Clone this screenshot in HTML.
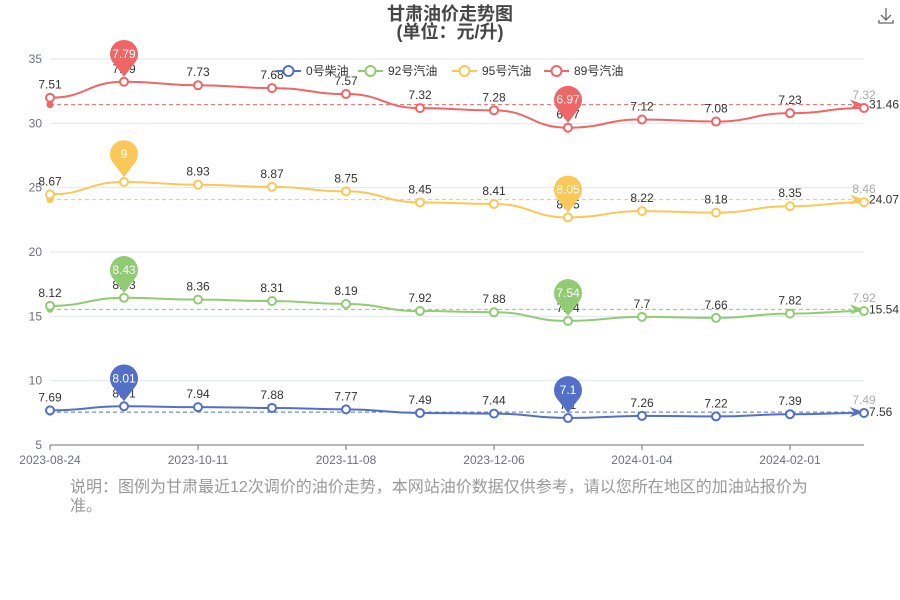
<!DOCTYPE html>
<html><head><meta charset="utf-8"><style>
body{margin:0;background:#fff;width:900px;height:600px;overflow:hidden;font-family:"Liberation Sans","Noto Sans CJK SC",sans-serif}
#note{position:absolute;left:70px;top:478px;width:760px;font-size:16px;line-height:19px;color:#999}
</style></head><body>
<svg id="chart" width="900" height="600" style="position:absolute;left:0;top:0" font-family="Liberation Sans, Noto Sans CJK SC, sans-serif"></svg>
<div id="note">说明：图例为甘肃最近12次调价的油价走势，本网站油价数据仅供参考，请以您所在地区的加油站报价为准。</div>
<script>
const dates=["2023-08-24","2023-09-07","2023-10-11","2023-10-25","2023-11-08","2023-11-22","2023-12-06","2023-12-20","2024-01-04","2024-01-18","2024-02-01","2024-02-22"];
const shownLabels=["2023-08-24","2023-10-11","2023-11-08","2023-12-06","2024-01-04","2024-02-01"];
const names=["0号柴油","92号汽油","95号汽油","89号汽油"];
const diesel0=[7.69,8.01,7.94,7.88,7.77,7.49,7.44,7.1,7.26,7.22,7.39,7.49];
const gas92=[8.12,8.43,8.36,8.31,8.19,7.92,7.88,7.54,7.7,7.66,7.82,7.92];
const gas95=[8.67,9,8.93,8.87,8.75,8.45,8.41,8.05,8.22,8.18,8.35,8.46];
const gas89=[7.51,7.79,7.73,7.68,7.57,7.32,7.28,6.97,7.12,7.08,7.23,7.32];
const yTicks=[5,10,15,20,25,30,35];
const colors=["#5470c6","#91cc75","#fac858","#ee6666"];
const series=[diesel0,gas92,gas95,gas89];

const svg=document.getElementById('chart');
const NS="http://www.w3.org/2000/svg";
function mk(t,a,txt){const e=document.createElementNS(NS,t);for(const k in a)e.setAttribute(k,a[k]);if(txt!=null)e.textContent=txt;svg.appendChild(e);return e;}
const x0=50,x1=864,yTop=59,yBot=445,vMin=5,vMax=35;
const X=i=>x0+i*(x1-x0)/(dates.length-1);
const Y=v=>yBot-(v-vMin)/(vMax-vMin)*(yBot-yTop);

let e=mk('text',{x:450,y:20,'text-anchor':'middle','font-size':18,'font-weight':'bold',fill:'#464646'},'甘肃油价走势图');

e=mk('text',{x:450,y:38,'text-anchor':'middle','font-size':18,'font-weight':'bold',fill:'#464646'},'(单位：元/升)');

e=mk('path',{d:'M886 8v12M881 15l5 5 5-5M879 20v3h14v-3',stroke:'#666',fill:'none','stroke-width':1.3});


yTicks.forEach(v=>{
  if(v>vMin){e=mk('line',{x1:x0,x2:x1,y1:Y(v),y2:Y(v),stroke:'#e0e6f1'});}
  e=mk('text',{x:42,y:Y(v)+4,'text-anchor':'end','font-size':12,fill:'#6e7079'},v);
  
});
e=mk('line',{x1:x0,x2:x1,y1:yBot,y2:yBot,stroke:'#6e7079'});

dates.forEach((d,i)=>{
  if(shownLabels.includes(d)){
    e=mk('line',{x1:X(i),x2:X(i),y1:yBot,y2:yBot+5,stroke:'#6e7079'});
    
    e=mk('text',{x:X(i),y:yBot+19,'text-anchor':'middle','font-size':12,fill:'#6e7079'},d);
    
  }
});

// stacked
let base=dates.map(()=>0);
const stacks=series.map(s=>{base=base.map((b,i)=>b+s[i]);return base.slice();});

stacks.forEach((st,si)=>{
  const c=colors[si],raw=series[si];
  const avg=st.reduce((a,b)=>a+b,0)/st.length;
  let d='M'+X(0)+' '+Y(st[0]);
  for(let i=1;i<st.length;i++){const xa=X(i-1),xb=X(i),dx=(xb-xa)/2;d+=` C${xa+dx} ${Y(st[i-1])} ${xb-dx} ${Y(st[i])} ${xb} ${Y(st[i])}`;}
  e=mk('path',{d,stroke:c,'stroke-width':2,fill:'none'});
  
  // avg line
  const ya=Y(avg);
  e=mk('line',{x1:x0,x2:x1-4,y1:ya,y2:ya,stroke:c,'stroke-dasharray':'4 3'});
  
  e=mk('circle',{cx:x0,cy:ya,r:3.5,fill:c});
  
  e=mk('path',{d:`M${x1-14} ${ya-5} L${x1} ${ya} L${x1-14} ${ya+5} L${x1-10} ${ya} Z`,fill:c});
  
  e=mk('text',{x:x1+5,y:ya+4,'font-size':12,fill:'#333'},avg.toFixed(2));
  
  st.forEach((v,i)=>{
    e=mk('circle',{cx:X(i),cy:Y(v),r:4,fill:'#fff',stroke:c,'stroke-width':2});
    
    e=mk('text',{x:X(i),y:Y(v)-9,'text-anchor':'middle','font-size':12,fill:i==st.length-1?'#aaa':'#333'},raw[i]);
    
  });
  const mx=raw.indexOf(Math.max(...raw)),mn=raw.indexOf(Math.min(...raw));
  [mx,mn].forEach(i=>{
    const px=X(i),py=Y(st[i]),cy=py-28;
    e=mk('path',{d:`M${px} ${py-5} L${px-10} ${cy+10} A14 14 0 1 1 ${px+10} ${cy+10} Z`,fill:c});
    
    e=mk('text',{x:px,y:cy+4,'text-anchor':'middle','font-size':12,fill:'#fff'},raw[i]);
    
  });
});

// legend
const lx=[276,358,452,544];
names.forEach((n,i)=>{
  const g=document.createElementNS(NS,'g');svg.appendChild(g);
  
  g.innerHTML=`<line x1="${lx[i]}" x2="${lx[i]+25}" y1="71" y2="71" stroke="${colors[i]}" stroke-width="2"/><circle cx="${lx[i]+12.5}" cy="71" r="5" fill="#fff" stroke="${colors[i]}" stroke-width="2"/><text x="${lx[i]+30}" y="75" font-size="12" fill="#333">${n}</text>`;
});
</script>
</body></html>
